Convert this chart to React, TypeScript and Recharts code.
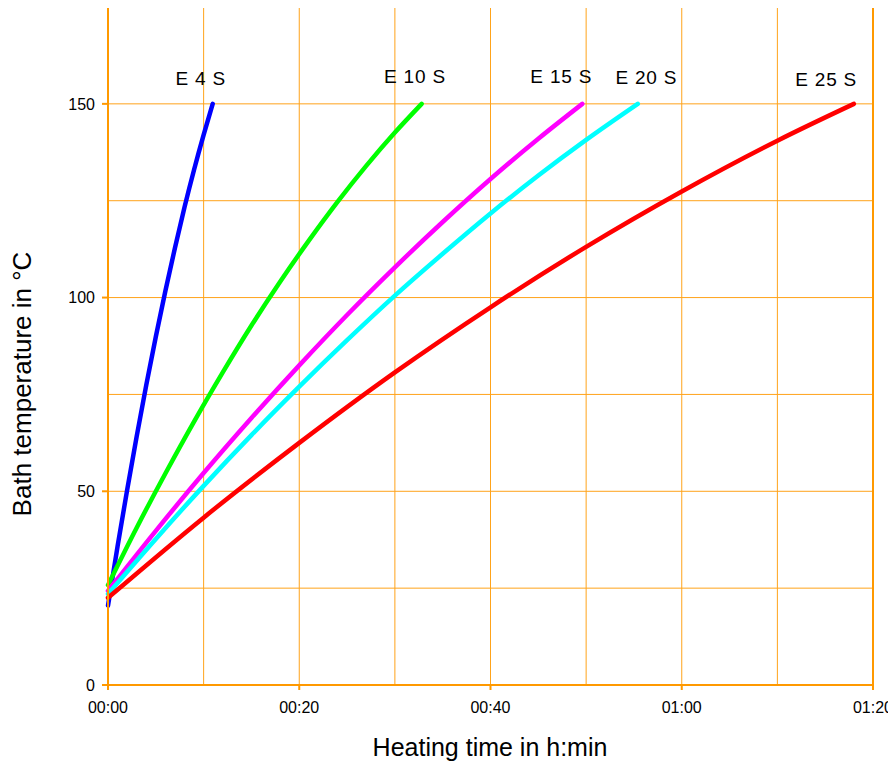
import { LineChart, Line, XAxis, YAxis, CartesianGrid, ReferenceLine, ReferenceDot } from 'recharts';

// heating time (min) vs bath temperature (°C)
const e4Time = [0, 1, 2, 3, 4, 5, 6, 7, 8, 9, 10, 10.95];
const e4Temp = [20.5, 35.8, 50.3, 64.2, 77.4, 89.9, 101.7, 112.8, 123.3, 133.0, 142.0, 150];
const e10Time = [0, 3, 6, 9, 12, 15, 18, 21, 24, 27, 30, 32.8];
const e10Temp = [25.8, 40.6, 54.6, 68.0, 80.7, 92.8, 104.1, 114.7, 124.7, 134.0, 142.6, 150];
const e15Time = [0, 5, 10, 15, 20, 25, 30, 35, 40, 45, 49.6];
const e15Temp = [24.3, 39.8, 54.7, 68.9, 82.5, 95.5, 107.8, 119.5, 130.6, 141.0, 150];
const e20Time = [0, 5, 10, 15, 20, 25, 30, 35, 40, 45, 50, 55.4];
const e20Temp = [23.5, 37.7, 51.4, 64.5, 77.0, 89.0, 100.5, 111.3, 121.7, 131.5, 140.7, 150];
const e25Time = [0, 10, 20, 30, 40, 50, 60, 70, 78];
const e25Temp = [22.5, 43.2, 62.5, 80.7, 97.5, 113.1, 127.4, 140.5, 150];

const seriesNames = ['E 4 S', 'E 10 S', 'E 15 S', 'E 20 S', 'E 25 S'];
const seriesColors = ['#0000ff', '#00ff00', '#ff00ff', '#00ffff', '#ff0000'];
const labelTime = [9.7, 32.1, 47.4, 56.3, 75.1];
const labelTemp = [156.6, 157, 157, 156.8, 156.3];

const xTicks = [0, 20, 40, 60, 80];
const xMinor = [10, 30, 50, 70];
const yTicks = [0, 50, 100, 150];
const yMinor = [25, 75, 125];

const zip = (t: number[], v: number[]) => t.map((x, i) => ({ t: x, v: v[i] }));
const series = [
  zip(e4Time, e4Temp),
  zip(e10Time, e10Temp),
  zip(e15Time, e15Temp),
  zip(e20Time, e20Temp),
  zip(e25Time, e25Temp),
];

const fmtTime = (m: number) => {
  const h = Math.floor(m / 60);
  const mm = m % 60;
  return `${String(h).padStart(2, '0')}:${String(mm).padStart(2, '0')}`;
};

const GRID = '#ffa31a';
const FRAME = '#ff9900';
const FONT = '"Liberation Sans", Arial, sans-serif';

export default function App() {
  return (
    <div style={{ margin: '-8px 0 0 -8px', fontFamily: FONT }}>
      <LineChart
        width={896}
        height={770}
        margin={{ top: 7, right: 23, left: 0, bottom: 0 }}
      >
        <CartesianGrid stroke={GRID} strokeWidth={1} />
        {yMinor.map((y) => (
          <ReferenceLine key={'y' + y} y={y} stroke={GRID} strokeWidth={1} />
        ))}
        {xMinor.map((x) => (
          <ReferenceLine key={'x' + x} x={x} stroke={GRID} strokeWidth={1} />
        ))}
        <ReferenceLine y={175} stroke={FRAME} strokeWidth={2} />
        <ReferenceLine x={80} stroke={FRAME} strokeWidth={2} />
        <XAxis
          type="number"
          dataKey="t"
          domain={[0, 80]}
          ticks={xTicks}
          tickFormatter={fmtTime}
          allowDuplicatedCategory={false}
          height={85}
          stroke={FRAME}
          strokeWidth={2}
          tickSize={5}
          tickMargin={12}
          tick={{ fill: '#000', fontSize: 16, fontFamily: FONT }}
          label={{
            content: () => (
              <text x={490} y={756} textAnchor="middle" fontSize={25} fontFamily={FONT} fill="#000">
                Heating time in h:min
              </text>
            ),
          }}
        />
        <YAxis
          type="number"
          domain={[0, 175]}
          ticks={yTicks}
          width={108}
          stroke={FRAME}
          strokeWidth={2}
          tickSize={6}
          tickMargin={7}
          tick={{ fill: '#000', fontSize: 16, fontFamily: FONT }}
          label={{
            content: () => (
              <text
                x={31}
                y={384}
                transform="rotate(-90, 31, 384)"
                textAnchor="middle"
                fontSize={26}
                fontFamily={FONT}
                fill="#000"
              >
                Bath temperature in °C
              </text>
            ),
          }}
        />
        {series.map((d, i) => (
          <Line
            key={seriesNames[i]}
            data={d}
            dataKey="v"
            type="monotone"
            stroke={seriesColors[i]}
            strokeWidth={4.5}
            strokeLinecap="round"
            dot={false}
            activeDot={false}
            isAnimationActive={false}
          />
        ))}
        {seriesNames.map((name, i) => (
          <ReferenceDot
            key={'l' + name}
            x={labelTime[i]}
            y={labelTemp[i]}
            r={0}
            fill="none"
            stroke="none"
            label={{
              value: name,
              position: 'center',
              fontSize: 19,
              fontFamily: FONT,
              fill: '#000',
              letterSpacing: 0.8,
            }}
          />
        ))}
      </LineChart>
    </div>
  );
}
